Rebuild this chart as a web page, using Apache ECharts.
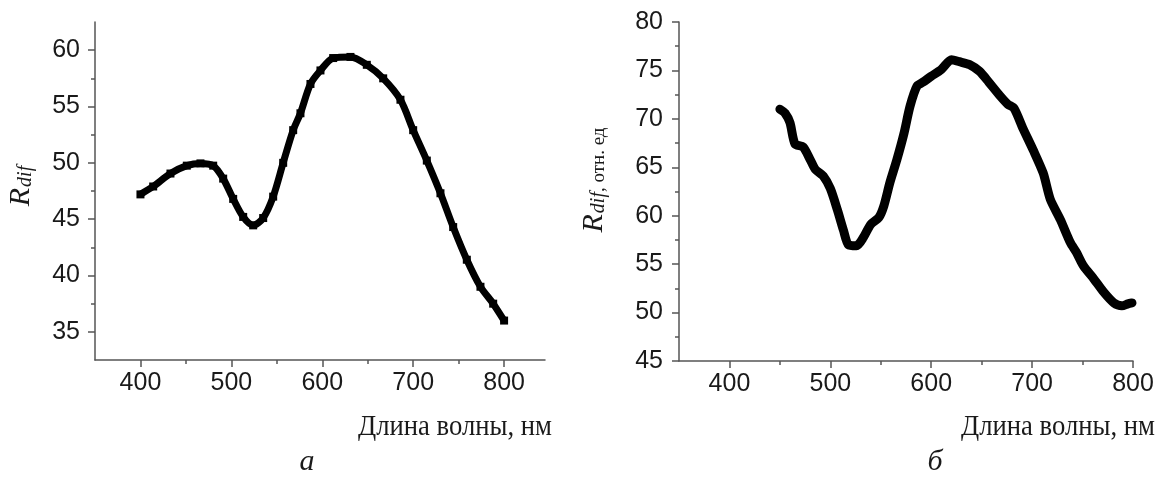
<!DOCTYPE html>
<html>
<head>
<meta charset="utf-8">
<script src="https://cdn.jsdelivr.net/npm/echarts@6/dist/echarts.min.js"></script>
<style>
  html, body { margin: 0; padding: 0; background: #fff; }
  #chart { width: 1161px; height: 479px; }
</style>
</head>
<body>
<div id="chart"></div>
<script>
// panel a: wavelength (nm) and R_dif
const waveA = [400, 414, 433, 451, 466, 480, 491, 502, 513, 524, 535, 546, 557, 568, 576, 587, 598, 612, 631, 649, 667, 686, 700, 715, 730, 744, 759, 774, 788, 800];
const rdifA = [47.2, 47.9, 49.05, 49.75, 49.95, 49.75, 48.6, 46.8, 45.2, 44.45, 45.1, 47.0, 50.0, 52.9, 54.4, 57.0, 58.2, 59.3, 59.4, 58.7, 57.5, 55.6, 52.9, 50.2, 47.3, 44.3, 41.4, 39.0, 37.5, 36.0];

// panel б: wavelength (nm) and R_dif, rel. units
const waveB = [450, 455, 460, 465, 473, 480, 485, 493, 500, 507, 513, 518, 526, 533, 540, 548, 553, 559, 566, 573, 579, 586, 592, 600, 610, 620, 628, 638, 648, 657, 668, 676, 682, 691, 701, 711, 718, 728, 738, 744, 751, 761, 771, 781, 789, 795, 799];
const rdifB = [71.0, 70.6, 69.6, 67.4, 67.1, 65.8, 64.8, 64.1, 62.8, 60.6, 58.5, 57.0, 56.9, 57.8, 59.1, 59.8, 61.0, 63.4, 65.8, 68.5, 71.3, 73.4, 73.8, 74.4, 75.1, 76.1, 75.9, 75.6, 74.9, 73.8, 72.4, 71.5, 71.1, 69.0, 66.8, 64.4, 61.7, 59.6, 57.2, 56.2, 54.8, 53.5, 52.1, 51.0, 50.7, 50.9, 51.0];

// tick labels
const xTicks = [400, 500, 600, 700, 800];
const xMinor = [450, 550, 650, 750];
const yTicksA = [35, 40, 45, 50, 55, 60];
const yMinorA = [37.5, 42.5, 47.5, 52.5, 57.5];
const yTicksB = [45, 50, 55, 60, 65, 70, 75, 80];
const yMinorB = [47.5, 52.5, 57.5, 62.5, 67.5, 72.5, 77.5];

const axisColor = '#555';
const labelColor = '#1a1a1a';
const sans = '"Liberation Sans", Arial, sans-serif';
const serif = '"Liberation Serif", "Times New Roman", serif';

function zip(xs, ys) {
  return xs.map((x, i) => [x, ys[i]]);
}

function majorAxis(grid, pos, min, max, ticks, margin) {
  return {
    gridIndex: grid,
    type: 'value',
    position: pos,
    min: min,
    max: max,
    axisLine: { show: true, lineStyle: { color: axisColor, width: 1.5 } },
    axisTick: { show: true, customValues: ticks, length: 7, lineStyle: { color: axisColor, width: 1.5 } },
    axisLabel: { customValues: ticks, color: labelColor, fontFamily: sans, fontSize: 25, margin: margin },
    splitLine: { show: false }
  };
}

function minorAxis(grid, pos, min, max, ticks) {
  return {
    gridIndex: grid,
    type: 'value',
    position: pos,
    min: min,
    max: max,
    axisLine: { show: false },
    axisTick: { show: true, customValues: ticks, length: 4, lineStyle: { color: axisColor, width: 1.5 } },
    axisLabel: { show: false },
    splitLine: { show: false }
  };
}

const nameRich = {
  r: { fontFamily: serif, fontStyle: 'italic', fontSize: 30, fill: labelColor, verticalAlign: 'bottom' },
  s: { fontFamily: serif, fontStyle: 'italic', fontSize: 20, fill: labelColor, verticalAlign: 'bottom', padding: [0, 0, 0, 1] },
  t: { fontFamily: serif, fontSize: 19, fill: labelColor, verticalAlign: 'bottom' }
};

const chart = echarts.init(document.getElementById('chart'));
chart.setOption({
  animation: false,
  backgroundColor: '#fff',
  grid: [
    { left: 95, top: 22, width: 450, height: 338 },
    { left: 679, top: 22, width: 454, height: 339 }
  ],
  xAxis: [
    majorAxis(0, 'bottom', 350, 845, xTicks, 11),
    minorAxis(0, 'bottom', 350, 845, xMinor),
    majorAxis(1, 'bottom', 350, 800, xTicks, 11),
    minorAxis(1, 'bottom', 350, 800, xMinor)
  ],
  yAxis: [
    majorAxis(0, 'left', 32.5, 62.5, yTicksA, 15),
    minorAxis(0, 'left', 32.5, 62.5, yMinorA),
    majorAxis(1, 'left', 45, 80, yTicksB, 16),
    minorAxis(1, 'left', 45, 80, yMinorB)
  ],
  graphic: [
    {
      type: 'text', x: 21, y: 186, rotation: Math.PI / 2,
      style: { text: '{r|R}{s|dif}', rich: nameRich, align: 'center', verticalAlign: 'middle' }
    },
    {
      type: 'text', x: 594, y: 180, rotation: Math.PI / 2,
      style: { text: '{r|R}{s|dif}{t|, отн. ед}', rich: nameRich, align: 'center', verticalAlign: 'middle' }
    },
    {
      type: 'text', x: 552, y: 427, scaleX: 0.92,
      style: { text: 'Длина волны, нм', font: '29px ' + serif, fill: labelColor, align: 'right', verticalAlign: 'middle' }
    },
    {
      type: 'text', x: 1155, y: 427, scaleX: 0.92,
      style: { text: 'Длина волны, нм', font: '29px ' + serif, fill: labelColor, align: 'right', verticalAlign: 'middle' }
    },
    {
      type: 'text', x: 307, y: 462,
      style: { text: 'а', font: 'italic 30px ' + serif, fill: labelColor, align: 'center', verticalAlign: 'middle' }
    },
    {
      type: 'text', x: 935, y: 462,
      style: { text: 'б', font: 'italic 30px ' + serif, fill: labelColor, align: 'center', verticalAlign: 'middle' }
    }
  ],
  series: [
    {
      name: 'а',
      type: 'line',
      xAxisIndex: 0,
      yAxisIndex: 0,
      data: zip(waveA, rdifA),
      smooth: 0.3,
      symbol: 'rect',
      symbolSize: 8,
      itemStyle: { color: '#000' },
      lineStyle: { color: '#000', width: 7 }
    },
    {
      name: 'б',
      type: 'line',
      xAxisIndex: 2,
      yAxisIndex: 2,
      data: zip(waveB, rdifB),
      smooth: 0.25,
      showSymbol: false,
      lineStyle: { color: '#000', width: 9, cap: 'round', join: 'round' }
    }
  ]
});
</script>
</body>
</html>
